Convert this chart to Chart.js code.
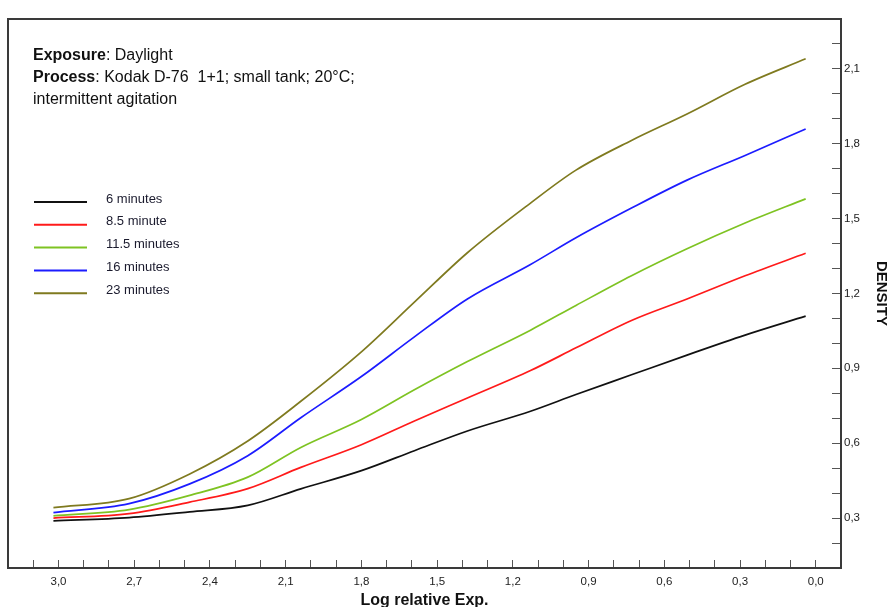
<!DOCTYPE html>
<html>
<head>
<meta charset="utf-8">
<script src="https://cdn.jsdelivr.net/npm/chart.js@4"></script>
<style>
  body{margin:0;background:#fff;}
  canvas{display:block;}
</style>
</head>
<body>
<canvas id="densChart" width="888" height="607"></canvas>
<script>
// log relative exposure (axis runs 3,0 -> 0,0)
const logExp = [3.02, 2.72, 2.48, 2.25, 2.04, 1.80, 1.59, 1.38, 1.13, 0.95, 0.73, 0.51, 0.28, 0.04];
const dens6   = [0.289, 0.302, 0.325, 0.351, 0.417, 0.490, 0.570, 0.649, 0.728, 0.795, 0.874, 0.953, 1.033, 1.109];
const dens8_5 = [0.300, 0.318, 0.364, 0.418, 0.503, 0.594, 0.689, 0.781, 0.891, 0.982, 1.092, 1.178, 1.271, 1.361];
const dens11_5= [0.309, 0.334, 0.391, 0.464, 0.583, 0.695, 0.814, 0.927, 1.053, 1.152, 1.271, 1.379, 1.482, 1.579];
const dens16  = [0.322, 0.358, 0.437, 0.550, 0.702, 0.867, 1.026, 1.178, 1.316, 1.423, 1.542, 1.654, 1.753, 1.859];
const dens23  = [0.342, 0.378, 0.477, 0.609, 0.768, 0.966, 1.165, 1.363, 1.562, 1.694, 1.813, 1.919, 2.038, 2.140];

const seriesNames = ['6 minutes','8.5 minute','11.5 minutes','16 minutes','23 minutes'];
const seriesData  = [dens6, dens8_5, dens11_5, dens16, dens23];
const seriesColors= ['#111111','#ff1a1a','#7ec322','#1c1cff','#7f7a1f'];

const xMin=-0.1, xMax=3.2, yMin=0.1, yMax=2.3;
const headerLines = [['Exposure',': Daylight'],['Process',': Kodak D-76  1+1; small tank; 20°C;'],['','intermittent agitation']];

const FONT='"Liberation Sans", Arial, sans-serif';
const frameCol='#3a3a3a';

function fmt(v){ return Math.round(v*10)%3===0 ? v.toFixed(1).replace('.',',') : ''; }
function stepTicks(a,b){ const t=[]; for(let i=Math.round(a*10);i<=Math.round(b*10);i++) t.push({value:i/10}); return t; }

const extras = {
  id:'extras',
  afterDraw(chart){
    const ctx=chart.ctx, ca=chart.chartArea;
    ctx.save();
    // frame top + left
    ctx.strokeStyle=frameCol; ctx.lineWidth=2;
    ctx.beginPath(); ctx.moveTo(ca.right,ca.top); ctx.lineTo(ca.left,ca.top); ctx.lineTo(ca.left,ca.bottom); ctx.stroke();
    // header text
    ctx.fillStyle='#111'; ctx.textBaseline='alphabetic'; ctx.textAlign='left';
    headerLines.forEach((l,i)=>{
      let x=33, y=60+i*22;
      ctx.font='bold 16px '+FONT; ctx.fillText(l[0],x,y); x+=ctx.measureText(l[0]).width;
      ctx.font='16px '+FONT; ctx.fillText(l[1],x,y);
    });
    // legend
    ctx.font='13px '+FONT; ctx.textBaseline='middle';
    seriesNames.forEach((n,i)=>{
      const y=202+i*22.8;
      ctx.strokeStyle=seriesColors[i]; ctx.lineWidth=2;
      ctx.beginPath(); ctx.moveTo(34,y); ctx.lineTo(87,y); ctx.stroke();
      ctx.fillStyle='#1b1b2e'; ctx.fillText(n,106,y-3);
    });
    ctx.restore();
  }
};

new Chart(document.getElementById('densChart'),{
  type:'line',
  data:{
    datasets: seriesNames.map((n,i)=>({
      label:n,
      data: logExp.map((x,j)=>({x:x,y:seriesData[i][j]})),
      borderColor:seriesColors[i], borderWidth:1.7,
      pointRadius:0, cubicInterpolationMode:'monotone', fill:false
    }))
  },
  options:{
    responsive:false, animation:false,
    layout:{padding:{left:8,top:14,right:0,bottom:0}},
    plugins:{legend:{display:false},tooltip:{enabled:false}},
    scales:{
      x:{
        type:'linear', position:'bottom', reverse:true, min:xMin, max:xMax,
        afterBuildTicks(s){ s.ticks=stepTicks(0,3.1); },
        afterFit(s){ s.height=39; },
        grid:{drawOnChartArea:false, drawTicks:true, tickLength:-8, color:'#555', lineWidth:1},
        border:{display:true, color:frameCol, width:2},
        ticks:{autoSkip:false, maxRotation:0, padding:15, color:'#222', font:{family:FONT,size:11.5}, callback:v=>fmt(v)},
        title:{display:true, text:'Log relative Exp.', color:'#111', font:{family:FONT,size:16,weight:'bold'}, padding:{top:0,bottom:-3}}
      },
      y:{
        type:'linear', position:'right', min:yMin, max:yMax,
        afterBuildTicks(s){ s.ticks=stepTicks(0.2,2.2); },
        afterFit(s){ s.width=47; },
        grid:{drawOnChartArea:false, drawTicks:true, tickLength:-9, color:'#555', lineWidth:1},
        border:{display:true, color:frameCol, width:2},
        ticks:{autoSkip:false, padding:12, color:'#222', font:{family:FONT,size:11.5}, callback:v=>fmt(v)},
        title:{display:true, text:'DENSITY', color:'#111', font:{family:FONT,size:15,weight:'bold'}, padding:{top:-2,bottom:0}}
      }
    }
  },
  plugins:[extras]
});
</script>
</body>
</html>
